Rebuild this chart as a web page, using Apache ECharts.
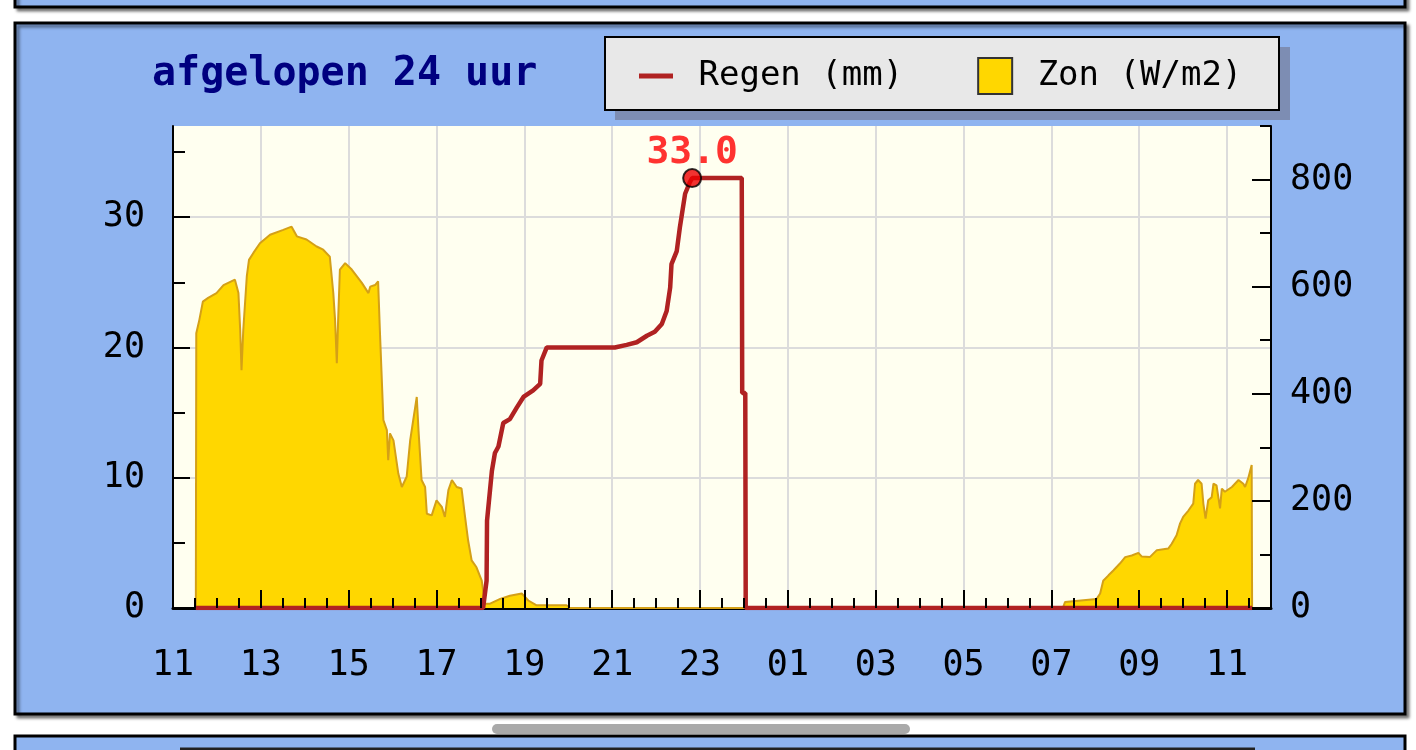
<!DOCTYPE html>
<html>
<head>
<meta charset="utf-8">
<script src="https://cdn.jsdelivr.net/npm/echarts@6/dist/echarts.min.js"></script>
<style>
  html, body { margin: 0; padding: 0; background: #ffffff; }
  #chart { width: 1416px; height: 750px; }
</style>
</head>
<body>
<div id="chart"></div>
<script>
// ---- data (hours since 00:00 of first day) ----
const rainHour = [11.52, 18.06, 18.14, 18.15, 18.26, 18.33, 18.41, 18.52, 18.67, 18.83, 18.98, 19.20, 19.36, 19.39, 19.51,
  21.06, 21.33, 21.56, 21.79, 21.97, 22.13, 22.24, 22.32, 22.35, 22.47, 22.54, 22.66, 22.77, 22.82, 23.95, 23.96, 24.03, 24.04, 35.57];
const rainMm = [0, 0, 2.1, 6.7, 10.5, 11.9, 12.4, 14.2, 14.5, 15.4, 16.2, 16.7, 17.2, 19.0, 20.0,
  20.0, 20.2, 20.4, 20.9, 21.2, 21.8, 22.8, 24.6, 26.4, 27.4, 29.2, 31.8, 32.7, 33.0, 33.0, 16.5, 16.5, 0, 0];

const sunHour = [11.52, 11.53, 11.60, 11.68, 11.80, 11.99, 12.15, 12.41, 12.49, 12.53, 12.56, 12.60, 12.68, 12.73, 12.83, 12.98,
  13.21, 13.51, 13.70, 13.82, 14.04, 14.27, 14.42, 14.57, 14.65, 14.69, 14.73, 14.76, 14.80, 14.92, 15.07, 15.30, 15.45, 15.49,
  15.60, 15.67, 15.71, 15.79, 15.87, 15.90, 15.94, 16.02, 16.13, 16.21, 16.32, 16.40, 16.47, 16.55, 16.59, 16.66, 16.74, 16.78,
  16.89, 17.00, 17.12, 17.19, 17.27, 17.35, 17.46, 17.57, 17.65, 17.72, 17.80, 17.91, 18.03, 18.10, 18.22, 18.45, 18.67, 18.94,
  19.09, 19.28, 19.96, 20.04, 31.26, 31.31, 32.03, 32.11, 32.18, 32.30, 32.41, 32.56, 32.68, 32.83, 32.98, 33.06, 33.24, 33.40,
  33.66, 33.74, 33.85, 33.93, 34.00, 34.12, 34.23, 34.27, 34.34, 34.42, 34.46, 34.51, 34.57, 34.65, 34.69, 34.76, 34.84, 34.88,
  34.95, 35.11, 35.26, 35.37, 35.41, 35.48, 35.56, 35.57];
const sunWm2 = [0, 513, 538, 572, 579, 588, 603, 613, 588, 519, 444, 519, 619, 650, 663, 681,
  697, 706, 712, 694, 688, 675, 669, 656, 588, 538, 457, 538, 632, 644, 632, 607, 588, 600,
  603, 610, 519, 351, 332, 276, 326, 313, 251, 226, 245, 313, 351, 394, 332, 239, 226, 176,
  173, 201, 189, 170, 220, 239, 226, 223, 170, 126, 89, 76, 51, 8, 8, 17, 23, 27,
  14, 5, 5, 0, 0, 11, 17, 27, 51, 61, 70, 83, 95, 98, 103, 96, 95, 108,
  111, 120, 136, 158, 170, 182, 195, 232, 239, 232, 195, 167, 201, 207, 232, 229, 186, 223,
  217, 226, 239, 232, 226, 242, 267, 0];

const rainMax = [22.82, 33.0];
const rainMaxLabel = '33.0';

// ---- ticks ----
const xMajorTicks = [11, 13, 15, 17, 19, 21, 23, 25, 27, 29, 31, 33, 35];
const xMinorTicks = [11.5, 12, 12.5, 13, 13.5, 14, 14.5, 15, 15.5, 16, 16.5, 17, 17.5, 18, 18.5, 19, 19.5, 20, 20.5, 21, 21.5, 22, 22.5, 23, 23.5,
  24, 24.5, 25, 25.5, 26, 26.5, 27, 27.5, 28, 28.5, 29, 29.5, 30, 30.5, 31, 31.5, 32, 32.5, 33, 33.5, 34, 34.5, 35, 35.5];
const leftMajorTicks = [0, 10, 20, 30];
const leftMinorTicks = [5, 15, 25, 35];
const leftGridTicks = [10, 20, 30];
const rightMajorTicks = [0, 200, 400, 600, 800];
const rightMinorTicks = [100, 300, 500, 700, 900];

const MONO = 'DejaVu Sans Mono';
const BLUE = '#8fb4f0';
const RAIN = '#b02222';

function zip(a, b) { return a.map((v, i) => [v, b[i]]); }
function hourLabel(v) { const h = Math.round(v) % 24; return (h < 10 ? '0' : '') + h; }

const chart = echarts.init(document.getElementById('chart'), null, { renderer: 'canvas' });

const axisTextStyle = { fontFamily: MONO, fontSize: 35, color: '#000' };

const option = {
  backgroundColor: '#ffffff',
  animation: false,
  title: {
    text: 'afgelopen 24 uur',
    left: 147, top: 50,
    textStyle: { fontFamily: MONO, fontSize: 40, fontWeight: 'bold', color: '#000080' }
  },
  legend: {
    left: 639, top: 57, padding: 0,
    itemWidth: 34, itemHeight: 36, itemGap: 74,
    z: 5,
    textStyle: { fontFamily: MONO, fontSize: 34, color: '#000' },
    formatter: n => ' ' + n,
    data: [
      { name: 'Regen (mm)', icon: 'path://M0,0L34,0L34,5L0,5Z', itemStyle: { color: RAIN } },
      { name: 'Zon (W/m2)', icon: 'rect', itemStyle: { color: '#ffd700', borderColor: '#333', borderWidth: 2 } }
    ]
  },
  graphic: [
    { type: 'rect', z: -10, shape: { x: 15, y: -30, width: 1390, height: 37 },
      style: { fill: BLUE, stroke: '#000', lineWidth: 3, shadowBlur: 3, shadowOffsetX: 3, shadowOffsetY: 3, shadowColor: 'rgba(0,0,0,0.45)' } },
    { type: 'rect', z: -10, shape: { x: 15, y: 23, width: 1390, height: 691 },
      style: { fill: BLUE, stroke: '#000', lineWidth: 3, shadowBlur: 3, shadowOffsetX: 3, shadowOffsetY: 3, shadowColor: 'rgba(0,0,0,0.45)' } },
    { type: 'rect', z: -10, shape: { x: 15, y: 736, width: 1390, height: 60 },
      style: { fill: BLUE, stroke: '#000', lineWidth: 3 } },
    { type: 'line', z: -9, shape: { x1: 180, y1: 749, x2: 1255, y2: 749 }, style: { stroke: '#222', lineWidth: 3 } },
    { type: 'rect', z: -9, shape: { x: 492, y: 724, width: 418, height: 10, r: 5 }, style: { fill: '#a9a9a9' } },
    { type: 'rect', z: 1, shape: { x: 615, y: 47, width: 675, height: 73 }, style: { fill: '#7d8db3' } },
    { type: 'rect', z: 2, shape: { x: 605, y: 37, width: 674, height: 73 }, style: { fill: '#e8e8e8', stroke: '#000', lineWidth: 2 } }
  ],
  grid: {
    left: 173, right: 145, top: 126, bottom: 142,
    show: true, backgroundColor: '#fffff0', borderWidth: 0
  },
  xAxis: [
    { // grid lines + axis line (below series)
      type: 'value', min: 11, max: 36, interval: 2, position: 'bottom', z: 0,
      axisLine: { show: true, lineStyle: { color: '#000', width: 3 } },
      axisTick: { show: false }, axisLabel: { show: false },
      splitLine: { show: true, lineStyle: { color: '#dcdcdc', width: 2 } }
    },
    { // major ticks + labels
      type: 'value', min: 11, max: 36, interval: 2, position: 'bottom', z: 10,
      axisLine: { show: false },
      axisTick: { show: true, inside: true, length: 18, lineStyle: { color: '#000', width: 2 }, customValues: xMajorTicks },
      axisLabel: { show: true, margin: 40, customValues: xMajorTicks, formatter: hourLabel, ...axisTextStyle },
      splitLine: { show: false }
    },
    { // minor ticks
      type: 'value', min: 11, max: 36, interval: 0.5, position: 'bottom', z: 10,
      axisLine: { show: false },
      axisTick: { show: true, inside: true, length: 10, lineStyle: { color: '#000', width: 2 }, customValues: xMinorTicks },
      axisLabel: { show: false }, splitLine: { show: false }
    }
  ],
  yAxis: [
    { // left main
      type: 'value', min: 0, max: 37, interval: 10, position: 'left', z: 10,
      axisLine: { show: true, lineStyle: { color: '#000', width: 2 } },
      axisTick: { show: true, inside: true, length: 17, lineStyle: { color: '#000', width: 2 }, customValues: leftMajorTicks },
      axisLabel: { show: true, margin: 28, customValues: leftMajorTicks, padding: [7, 0, 0, 0], ...axisTextStyle },
      splitLine: { show: false }
    },
    { // left minor
      type: 'value', min: 0, max: 37, interval: 5, position: 'left', z: 10,
      axisLine: { show: false },
      axisTick: { show: true, inside: true, length: 12, lineStyle: { color: '#000', width: 2 }, customValues: leftMinorTicks },
      axisLabel: { show: false }, splitLine: { show: false }
    },
    { // left grid lines
      type: 'value', min: 0, max: 37, interval: 10, position: 'left', z: 0,
      axisLine: { show: false },
      axisTick: { show: false, customValues: leftGridTicks },
      axisLabel: { show: false },
      splitLine: { show: true, lineStyle: { color: '#dcdcdc', width: 2 } }
    },
    { // right main
      type: 'value', min: 0, max: 900, interval: 200, position: 'right', z: 10,
      axisLine: { show: true, lineStyle: { color: '#000', width: 2 } },
      axisTick: { show: true, inside: true, length: 19, lineStyle: { color: '#000', width: 2 }, customValues: rightMajorTicks },
      axisLabel: { show: true, margin: 19, customValues: rightMajorTicks, padding: [7, 0, 0, 0], ...axisTextStyle },
      splitLine: { show: false }
    },
    { // right minor
      type: 'value', min: 0, max: 900, interval: 100, position: 'right', z: 10,
      axisLine: { show: false },
      axisTick: { show: true, inside: true, length: 11, lineStyle: { color: '#000', width: 2 }, customValues: rightMinorTicks },
      axisLabel: { show: false }, splitLine: { show: false }
    }
  ],
  series: [
    {
      name: 'Zon (W/m2)', type: 'line', xAxisIndex: 1, yAxisIndex: 3, z: 2,
      data: zip(sunHour, sunWm2),
      showSymbol: false, symbol: 'none',
      itemStyle: { color: '#ffd700' },
      lineStyle: { color: '#d4a017', width: 2 },
      areaStyle: { color: '#ffd700', opacity: 1 }
    },
    {
      name: 'Regen (mm)', type: 'line', xAxisIndex: 1, yAxisIndex: 0, z: 3,
      data: zip(rainHour, rainMm),
      showSymbol: false, symbol: 'none',
      itemStyle: { color: RAIN },
      lineStyle: { color: RAIN, width: 4.5 }
    },
    {
      name: 'max', type: 'scatter', xAxisIndex: 1, yAxisIndex: 0, z: 4,
      data: [rainMax],
      symbolSize: 18,
      itemStyle: { color: '#ee0000', borderColor: '#000', borderWidth: 2 },
      label: {
        show: true, position: 'top', distance: 1, offset: [0, 5],
        formatter: () => rainMaxLabel,
        fontFamily: MONO, fontSize: 38, fontWeight: 'bold', color: '#ff0000'
      }
    }
  ]
};

chart.setOption(option);
</script>
</body>
</html>
